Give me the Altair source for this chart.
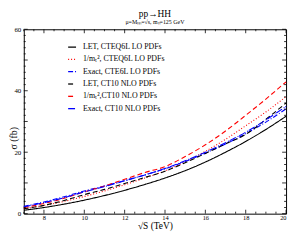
import altair as alt
import pandas as pd

# ---- data ----
sqrt_s = [7, 8, 9, 10, 11, 12, 13, 14, 15, 16, 17, 18, 19, 20]

series_names = [
    "LET, CTEQ6L LO PDFs",
    "1/m\u209c\u00b2, CTEQ6L LO PDFs",
    "Exact, CTE6L LO PDFs",
    "LET, CT10 NLO PDFs",
    "1/m\u209c\u00b2,CT10 NLO PDFs",
    "Exact, CT10 NLO PDFs",
]

let_lo = [1.1, 2.0, 3.1, 4.4, 5.9, 7.6, 9.5, 11.6, 14.0, 16.8, 20.0, 23.5, 27.4, 31.7]
mt_lo = [1.6, 2.7, 4.0, 5.6, 7.4, 9.4, 11.6, 13.9, 16.9, 20.3, 24.2, 28.6, 33.1, 38.1]
exact_lo = [2.4, 3.8, 5.5, 7.4, 9.0, 10.8, 12.6, 14.6, 17.0, 19.7, 22.7, 26.0, 29.8, 34.1]
let_nlo = [1.6, 2.7, 4.3, 6.2, 7.9, 9.8, 11.8, 13.8, 16.6, 19.6, 22.7, 25.8, 30.7, 36.0]
mt_nlo = [2.0, 3.3, 5.0, 7.1, 9.0, 11.2, 13.4, 15.3, 18.6, 22.4, 26.9, 32.0, 37.3, 42.9]
exact_nlo = [2.2, 3.6, 5.2, 7.1, 8.8, 10.7, 12.6, 14.7, 17.2, 20.0, 23.1, 26.5, 30.5, 34.9]

values = [let_lo, mt_lo, exact_lo, let_nlo, mt_nlo, exact_nlo]

colors = ["#000000", "#ff0000", "#0000ff", "#000000", "#ff0000", "#0000ff"]
dashes = [[1, 0], [1, 2], [5, 2, 1, 2], [5, 3], [5, 3], [7, 2, 1, 1]]

x_major = [8, 10, 12, 14, 16, 18, 20]
x_minor = [7, 7.5, 8.5, 9, 9.5, 10.5, 11, 11.5, 12.5, 13, 13.5, 14.5, 15, 15.5,
           16.5, 17, 17.5, 18.5, 19, 19.5]
y_major = [0, 10, 20, 30, 40, 50, 60]
y_minor = [2, 4, 6, 8, 12, 14, 16, 18, 22, 24, 26, 28, 32, 34, 36, 38,
           42, 44, 46, 48, 52, 54, 56, 58]

rows = []
for name, vals in zip(series_names, values):
    for xv, yv in zip(sqrt_s, vals):
        rows.append({"s": xv, "sigma": yv, "series": name})
df = pd.DataFrame(rows)

W, H = 266, 187
FONT = "Liberation Serif"

xscale = alt.Scale(domain=[7, 20], nice=False, zero=False)
yscale = alt.Scale(domain=[0, 60], nice=False)

legend = alt.Legend(
    title=None, orient="none", legendX=44, legendY=13,
    symbolType="stroke", symbolSize=64, symbolStrokeWidth=1.3,
    labelFont=FONT, labelFontSize=8, labelColor="black",
    labelOffset=6, rowPadding=3.5, padding=0,
)

lines = alt.Chart(df).mark_line(strokeWidth=1.1, interpolate="monotone").encode(
    x=alt.X("s:Q", scale=xscale,
            axis=alt.Axis(values=x_major, ticks=False, domain=False, grid=False,
                          labelFont=FONT, labelFontSize=6.5, labelColor="black",
                          labelPadding=0.5, title="\u221aS (TeV)", titleFont=FONT,
                          titleFontSize=9.5, titleFontWeight="normal",
                          titleColor="black", titleY=15,
                          titleBaseline="alphabetic")),
    y=alt.Y("sigma:Q", scale=yscale,
            axis=alt.Axis(values=y_major, ticks=False, domain=False, grid=False,
                          labelFont=FONT, labelFontSize=7, labelColor="black",
                          labelPadding=3, title="\u03c3 (fb)", titleFont=FONT,
                          titleFontSize=10, titleFontWeight="normal",
                          titleColor="black", titleX=-10.5, titleY=110,
                          titleAngle=270, titleAlign="center",
                          titleBaseline="middle")),
    color=alt.Color("series:N", scale=alt.Scale(domain=series_names, range=colors),
                    legend=legend),
    strokeDash=alt.StrokeDash("series:N",
                              scale=alt.Scale(domain=series_names, range=dashes),
                              legend=legend),
)

def xticks(vals, length, top):
    d = pd.DataFrame({"v": vals})
    if top:
        y0, y1 = 0, length
    else:
        y0, y1 = H, H - length
    return alt.Chart(d).mark_rule(color="black", strokeWidth=0.8).encode(
        x=alt.X("v:Q", scale=xscale), y=alt.value(y0), y2=alt.value(y1))

def yticks(vals, length, right):
    d = pd.DataFrame({"v": vals})
    if right:
        x0, x1 = W, W - length
    else:
        x0, x1 = 0, length
    return alt.Chart(d).mark_rule(color="black", strokeWidth=0.8).encode(
        y=alt.Y("v:Q", scale=yscale), x=alt.value(x0), x2=alt.value(x1))

ticks = [
    xticks(x_major, 4, False), xticks(x_minor, 2, False),
    xticks(x_major, 4, True), xticks(x_minor, 2, True),
    yticks(y_major, 4, False), yticks(y_minor, 2, False),
    yticks(y_major, 4, True), yticks(y_minor, 2, True),
]

chart = alt.layer(lines, *ticks).properties(
    width=W, height=H,
    title=alt.TitleParams(
        text="pp\u2192HH",
        subtitle="\u03bc=M\u2095\u2095=\u221as, m\u2095=125 GeV",
        font=FONT, fontSize=9.5, fontWeight="normal", color="black",
        subtitleFont=FONT, subtitleFontSize=6, subtitleColor="black",
        subtitlePadding=0.5, offset=0.5, anchor="middle",
    ),
    autosize=alt.AutoSizeParams(type="none"),
    padding={"left": 16, "top": 20, "right": 4, "bottom": 17},
).configure_view(stroke="black", strokeWidth=1)

chart.save("out.html", embed_options={"renderer": "svg", "actions": False})
